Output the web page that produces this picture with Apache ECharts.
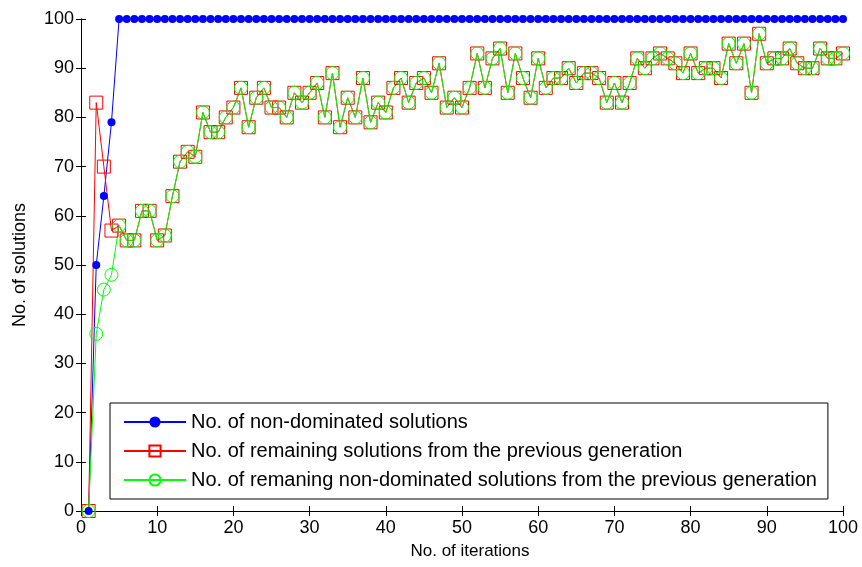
<!DOCTYPE html>
<html>
<head>
<meta charset="utf-8">
<script src="https://cdn.jsdelivr.net/npm/echarts@6/dist/echarts.min.js"></script>
<style>
  html, body { margin: 0; padding: 0; background: #fff; }
  #chart { width: 862px; height: 567px; }
</style>
</head>
<body>
<div id="chart"></div>
<script>
// values, iteration 1..100
const nonDominated = [0, 50, 64, 79,
  100, 100, 100, 100, 100, 100, 100, 100, 100, 100, 100, 100, 100, 100, 100, 100,
  100, 100, 100, 100, 100, 100, 100, 100, 100, 100, 100, 100, 100, 100, 100, 100,
  100, 100, 100, 100, 100, 100, 100, 100, 100, 100, 100, 100, 100, 100, 100, 100,
  100, 100, 100, 100, 100, 100, 100, 100, 100, 100, 100, 100, 100, 100, 100, 100,
  100, 100, 100, 100, 100, 100, 100, 100, 100, 100, 100, 100, 100, 100, 100, 100,
  100, 100, 100, 100, 100, 100, 100, 100, 100, 100, 100, 100, 100, 100, 100, 100]

// from iteration 5 on both curves are the same
const tailValues = [58, 55, 55, 61, 61, 55, 56, 64, 71, 73, 72, 81, 77, 77, 80, 82,
  86, 78, 84, 86, 82, 82, 80, 85, 83, 85, 87, 80, 89, 78, 84, 80,
  88, 79, 83, 81, 86, 88, 83, 87, 88, 85, 91, 82, 84, 82, 86, 93,
  86, 92, 94, 85, 93, 88, 84, 92, 86, 88, 88, 90, 87, 89, 89, 88,
  83, 87, 83, 87, 92, 90, 92, 93, 92, 91, 89, 93, 89, 90, 90, 88,
  95, 91, 95, 85, 97, 91, 92, 92, 94, 91, 90, 90, 94, 92, 92, 93]

const remainingHead = [0, 83, 70, 57]
const remainingNDHead = [0, 36, 45, 48]

const remaining = remainingHead.concat(tailValues)
const remainingND = remainingNDHead.concat(tailValues)

const xTicks = { min: 0, max: 100, interval: 10 }
const yTicks = { min: 0, max: 100, interval: 10 }

const legendNames = [
  'No. of non-dominated solutions',
  'No. of remaining solutions from the previous generation',
  'No. of remaning non-dominated solutions from the previous generation'
]

const toPoints = (arr) => arr.map((v, i) => [i + 1, v])

const font = 'Liberation Sans, Arial, sans-serif'
const myChart = echarts.init(document.getElementById('chart'), null, { renderer: 'canvas' })

const axisCommon = {
  axisLine: { show: true, lineStyle: { color: '#000', width: 1 } },
  axisTick: { show: true, inside: true, length: 5, lineStyle: { color: '#000' } },
  splitLine: { show: false }
}

const option = {
  backgroundColor: '#fff',
  animation: false,
  textStyle: { fontFamily: font },
  grid: { left: 81, right: 19, top: 19, bottom: 56 },
  legend: {
    orient: 'vertical',
    left: 110,
    top: 403,
    padding: [9, 11, 9, 13],
    itemGap: 9,
    itemWidth: 62,
    itemHeight: 14,
    borderColor: '#000',
    borderWidth: 1,
    backgroundColor: '#fff',
    textStyle: { fontSize: 20, color: '#000', fontFamily: font },
    data: legendNames
  },
  xAxis: [
    Object.assign({
      type: 'value', position: 'bottom',
      min: xTicks.min, max: xTicks.max, interval: xTicks.interval,
      name: 'No. of iterations', nameLocation: 'middle', nameGap: 32,
      nameTextStyle: { fontSize: 17, color: '#000', fontFamily: font, padding: [0, 0, 0, 16] },
      axisLabel: { fontSize: 18, color: '#000', margin: 8, fontFamily: font }
    }, axisCommon),
    Object.assign({
      type: 'value', position: 'top',
      min: xTicks.min, max: xTicks.max, interval: xTicks.interval,
      axisLabel: { show: false }
    }, axisCommon)
  ],
  yAxis: [
    Object.assign({
      type: 'value', position: 'left',
      min: yTicks.min, max: yTicks.max, interval: yTicks.interval,
      name: 'No. of solutions', nameLocation: 'middle', nameGap: 52,
      nameTextStyle: { fontSize: 18, color: '#000', fontFamily: font },
      axisLabel: { fontSize: 18, color: '#000', margin: 7, fontFamily: font }
    }, axisCommon),
    Object.assign({
      type: 'value', position: 'right',
      min: yTicks.min, max: yTicks.max, interval: yTicks.interval,
      axisLabel: { show: false }
    }, axisCommon)
  ],
  series: [
    {
      name: legendNames[0],
      type: 'line',
      clip: false,
      data: toPoints(nonDominated),
      symbol: 'circle',
      symbolSize: 8,
      lineStyle: { color: '#0000ff', width: 1 },
      itemStyle: { color: '#0000ff' }
    },
    {
      name: legendNames[1],
      type: 'line',
      clip: false,
      data: toPoints(remaining),
      symbol: 'rect',
      symbolSize: 13,
      lineStyle: { color: '#ff0000', width: 1 },
      itemStyle: { color: 'rgba(0,0,0,0)', borderColor: '#ff0000', borderWidth: 1 }
    },
    {
      name: legendNames[2],
      type: 'line',
      clip: false,
      data: toPoints(remainingND),
      symbol: 'circle',
      symbolSize: 13,
      lineStyle: { color: '#00ff00', width: 1 },
      itemStyle: { color: 'rgba(0,0,0,0)', borderColor: '#00ff00', borderWidth: 1 }
    }
  ]
}

myChart.setOption(option)
</script>
</body>
</html>
